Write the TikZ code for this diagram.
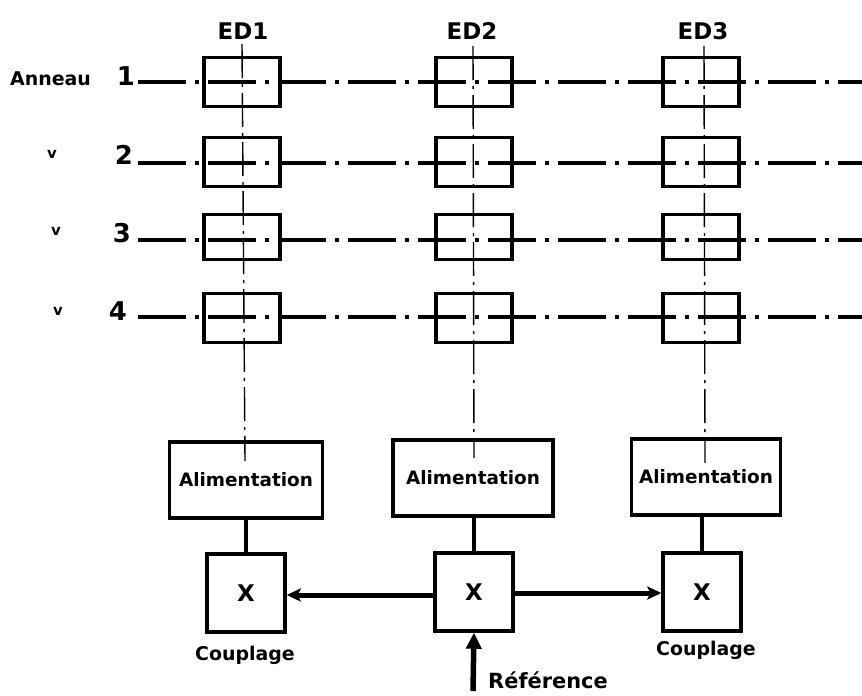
\documentclass[tikz,border=0pt]{standalone}
\usepackage{fontspec}
\setmainfont{DejaVu Sans}
\usetikzlibrary{arrows.meta}
\begin{document}
\begin{tikzpicture}[x=1bp,y=-1bp,
  ringbox/.style={draw,line width=3.4bp,minimum width=76bp,minimum height=49bp,inner sep=0pt},
  alimbox/.style={draw,line width=3.4bp,minimum height=76bp,inner sep=0pt,font=\fontsize{18.5}{18.5}\selectfont\bfseries},
  xbox/.style={draw,line width=3.4bp,minimum width=78bp,minimum height=78bp,inner sep=0pt,font=\fontsize{23}{23}\selectfont\bfseries},
  ring/.style={line width=3.2bp,dash pattern=on 48bp off 9bp on 4bp off 9bp},
  axis/.style={line width=1.4bp,dash pattern=on 34bp off 6bp on 3bp off 6bp},
  solidlink/.style={line width=3.4bp},
  couple/.style={line width=5bp,-{Stealth[length=14bp,width=13bp,inset=3bp]}},
  lbl/.style={inner sep=0pt,font=\fontsize{#1}{#1}\selectfont\bfseries},
  lbl/.default=16]
\useasboundingbox (0,0) rectangle (862,696);
% column headers
\node[lbl=23] (ed1) at (243,31) {ED1};
\node[lbl=23] (ed2) at (472,31) {ED2};
\node[lbl=23] (ed3) at (703,31) {ED3};
% row labels
\node[lbl=19,anchor=west] (ann) at (10,79) {Anneau};
\node[lbl=26] (n1) at (126,76) {1};
\node[lbl=15] (d2) at (52,154) {v};
\node[lbl=26] (n2) at (124,155) {2};
\node[lbl=15] (d3) at (56,231) {v};
\node[lbl=26] (n3) at (122,233) {3};
\node[lbl=15] (d4) at (58,311) {v};
\node[lbl=26] (n4) at (118,311) {4};
% ring boxes
\foreach \c/\x in {1/242,2/474,3/701}{
  \node[ringbox] (r1c\c) at (\x,82) {};
  \node[ringbox] (r2c\c) at (\x,162) {};
  \node[ringbox,minimum height=45bp] (r3c\c) at (\x,237) {};
  \node[ringbox] (r4c\c) at (\x,318) {};
}
% horizontal ring lines
\foreach \r/\y in {1/82,2/163,3/240,4/317}{
  \coordinate (s\r) at (138,\y);
  \coordinate (e\r) at (862,\y);
  \draw[ring] (s\r) -- (e\r);
}
% alimentation boxes
\node[alimbox,minimum width=153bp] (a1) at (246,480) {Alimentation};
\node[alimbox,minimum width=160bp] (a2) at (473,478) {Alimentation};
\node[alimbox,minimum width=149bp] (a3) at (706,477) {Alimentation};
% X boxes
\node[xbox] (x1) at (246,593) {X};
\node[xbox] (x2) at (474,592) {X};
\node[xbox] (x3) at (702,592) {X};
% vertical axes
\coordinate (t1) at (242,44);  \coordinate (b1) at (245,461);
\coordinate (t2) at (473,46);  \coordinate (b2) at (474,458);
\coordinate (t3) at (704,46);  \coordinate (b3) at (705,463);
\foreach \c in {1,2,3}{ \draw[axis] (t\c) -- (b\c); }
% alimentation to X
\foreach \c in {1,2,3}{ \draw[solidlink] (a\c.south -| x\c.north) -- (x\c.north); }
% coupling arrows
\draw[couple] (x2.west |- 0,595) -- (x1.east |- 0,595);
\draw[couple] (x2.east |- 0,593) -- (x3.west |- 0,593);
% reference
\coordinate (refstart) at (473,691);
\draw[line width=5.5bp,-{Triangle[length=16bp,width=15bp]}] (refstart) -- (x2.south);
\node[lbl=21,anchor=west] (ref) at (488,680) {Référence};
\node[lbl=19] (c1) at (245,655) {Couplage};
\node[lbl=19] (c3) at (706,650) {Couplage};
\end{tikzpicture}
\end{document}
